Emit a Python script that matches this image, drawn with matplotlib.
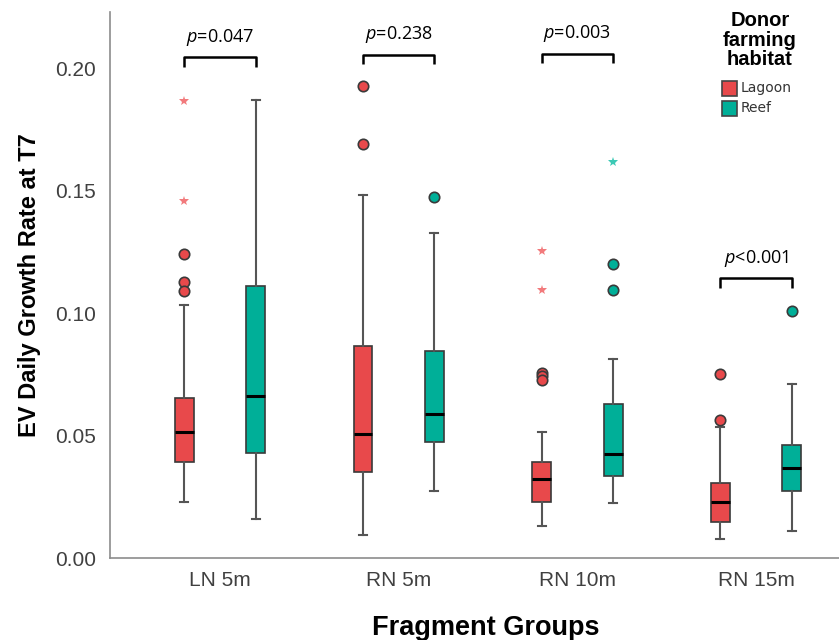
import matplotlib.pyplot as plt

plt.rcParams["mathtext.fontset"] = "custom"
plt.rcParams["mathtext.it"] = "Open Sans:italic"
plt.rcParams["mathtext.rm"] = "Open Sans"

# data
groups = ["LN 5m", "RN 5m", "RN 10m", "RN 15m"]
habitats = ["Lagoon", "Reef"]
colors = {"Lagoon": "#E8494B", "Reef": "#00AF98"}
star_colors = {"Lagoon": "#F27A7C", "Reef": "#3CC9B5"}

lagoon_whislo = [0.0230, 0.0094, 0.0132, 0.0078]
lagoon_q1 = [0.0393, 0.0350, 0.0231, 0.0148]
lagoon_med = [0.0514, 0.0507, 0.0322, 0.0227]
lagoon_q3 = [0.0654, 0.0867, 0.0392, 0.0307]
lagoon_whishi = [0.1033, 0.1482, 0.0514, 0.0537]
lagoon_circles = [[0.1240, 0.1128, 0.1091], [0.1928, 0.1691], [0.0754, 0.0742, 0.0728], [0.0751, 0.0562]]
lagoon_stars = [[0.1865, 0.1456], [], [0.1253, 0.1094], []]

reef_whislo = [0.0160, 0.0275, 0.0223, 0.0110]
reef_q1 = [0.0429, 0.0475, 0.0337, 0.0273]
reef_med = [0.0663, 0.0588, 0.0427, 0.0366]
reef_q3 = [0.1110, 0.0845, 0.0630, 0.0460]
reef_whishi = [0.1869, 0.1328, 0.0812, 0.0710]
reef_circles = [[], [0.1475], [0.1199, 0.1094], [0.1010]]
reef_stars = [[], [], [0.1616], []]

p_labels = ["=0.047", "=0.238", "=0.003", "<0.001"]
bracket_y = [0.2044, 0.2055, 0.2060, 0.1142]

series = {
    "Lagoon": (lagoon_whislo, lagoon_q1, lagoon_med, lagoon_q3, lagoon_whishi, lagoon_circles, lagoon_stars),
    "Reef": (reef_whislo, reef_q1, reef_med, reef_q3, reef_whishi, reef_circles, reef_stars),
}
offsets = {"Lagoon": -0.2, "Reef": 0.2}

fig = plt.figure(figsize=(8.39, 6.40), dpi=100)
ax = fig.add_axes([0.131, 0.128, 0.869, 0.853])

for hab in habitats:
    lo, q1, med, q3, hi, circ, stars = series[hab]
    stats = []
    for i in range(len(groups)):
        stats.append({"whislo": lo[i], "q1": q1[i], "med": med[i], "q3": q3[i], "whishi": hi[i], "fliers": []})
    pos = [i + offsets[hab] for i in range(len(groups))]
    ax.bxp(stats, positions=pos, widths=0.105, capwidths=0.045, patch_artist=True, showfliers=False,
           boxprops=dict(facecolor=colors[hab], edgecolor="#3a3a3a", linewidth=1.2),
           medianprops=dict(color="black", linewidth=2.2),
           whiskerprops=dict(color="#555555", linewidth=1.5),
           capprops=dict(color="#555555", linewidth=1.5))
    for i in range(len(groups)):
        if circ[i]:
            ax.plot([pos[i]] * len(circ[i]), circ[i], "o", ms=7.5, mfc=colors[hab], mec="#3a3a3a", mew=1.2, zorder=4)
        if stars[i]:
            ax.plot([pos[i]] * len(stars[i]), stars[i], "*", ms=7, color=star_colors[hab], mew=0, zorder=4)

# significance brackets
for i, (p, y) in enumerate(zip(p_labels, bracket_y)):
    x0, x1 = i - 0.2, i + 0.2
    ax.plot([x0, x0, x1, x1], [y - 0.0038, y, y, y - 0.0038], color="black", lw=1.8, solid_capstyle="butt")
    ax.text(i, y + 0.0082, r"$p$" + p, ha="center", va="center", fontsize=13, family="Open Sans")

ax.set_xlim(-0.616, 3.464)
ax.set_ylim(0, 0.2229)
ax.set_xticks(range(len(groups)))
ax.set_xticklabels(groups)
ax.set_yticks([0, 0.05, 0.10, 0.15, 0.20])
ax.set_yticklabels(["0.00", "0.05", "0.10", "0.15", "0.20"])
ax.tick_params(length=0, labelsize=15, labelcolor="#404040")
ax.tick_params(axis="x", pad=9)
ax.tick_params(axis="y", pad=10)
for lab in ax.get_xticklabels() + ax.get_yticklabels():
    lab.set_family("Liberation Sans")
for s in ["top", "right"]:
    ax.spines[s].set_visible(False)
for s in ["left", "bottom"]:
    ax.spines[s].set_color("#8c8c8c")
    ax.spines[s].set_linewidth(1.2)

ax.set_ylabel("EV Daily Growth Rate at T7", fontsize=17, fontweight="bold", family="Liberation Sans", labelpad=10)
ax.set_xlabel("Fragment Groups", fontsize=19.5, fontweight="bold", family="Liberation Sans")
ax.xaxis.set_label_coords((486 - 110) / 729, -0.104)

# legend
fig.text(760 / 839, 1 - 40 / 640, "Donor\nfarming\nhabitat", ha="center", va="center", fontsize=14.5,
         fontweight="bold", family="Liberation Sans", linespacing=1.05)
for j, hab in enumerate(habitats):
    yc = 1 - (88 + 20 * j) / 640
    fig.patches.append(plt.Rectangle((722 / 839, yc - 7.5 / 640), 15 / 839, 15 / 640, transform=fig.transFigure,
                                     facecolor=colors[hab], edgecolor="#444444", lw=1.2))
    fig.text(741 / 839, yc, hab, ha="left", va="center", fontsize=10, color="#333333", family="DejaVu Sans")

fig.savefig("out.png", dpi=100)
